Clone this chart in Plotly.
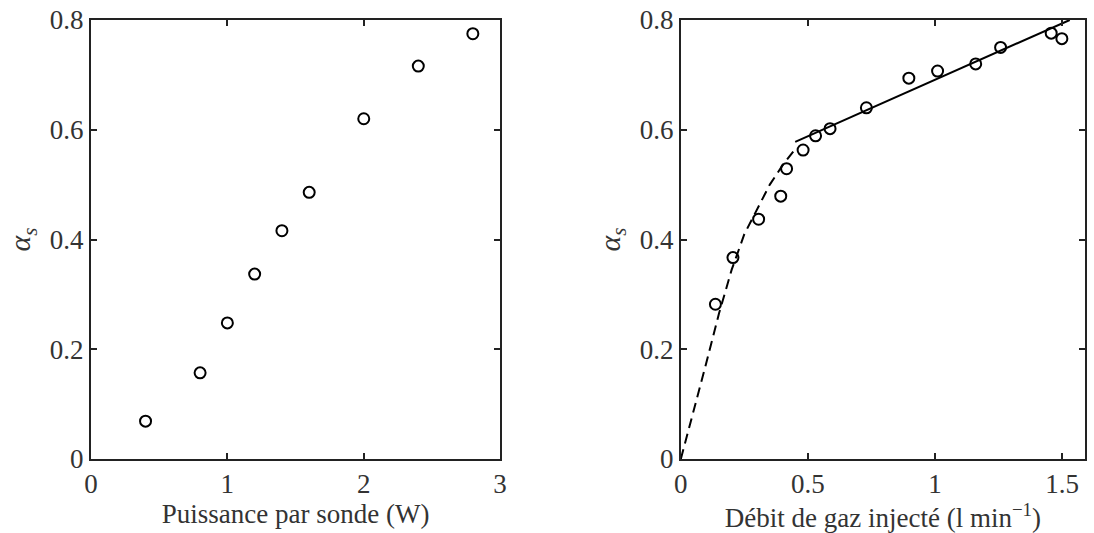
import plotly.graph_objects as go
from plotly.subplots import make_subplots

# Left panel data
puissance = [0.4, 0.8, 1.0, 1.2, 1.4, 1.6, 2.0, 2.4, 2.8]
alpha_left = [0.069, 0.157, 0.248, 0.337, 0.416, 0.486, 0.620, 0.716, 0.775]

# Right panel data
debit = [0.136, 0.205, 0.306, 0.393, 0.416, 0.481, 0.530, 0.587, 0.730,
         0.897, 1.010, 1.160, 1.258, 1.457, 1.499]
alpha_right = [0.282, 0.367, 0.437, 0.479, 0.529, 0.563, 0.589, 0.602, 0.640,
               0.694, 0.707, 0.720, 0.750, 0.776, 0.766]

# Fit curves (right panel)
dash_x = [0, 0.05, 0.1, 0.15, 0.2, 0.25, 0.3, 0.35, 0.4, 0.45]
dash_y = [0, 0.085, 0.175, 0.265, 0.345, 0.41, 0.455, 0.50, 0.535, 0.565]
solid_x = [0.45, 1.53]
solid_y = [0.578, 0.800]

left_xticks = [0, 1, 2, 3]
right_xticks = [0, 0.5, 1, 1.5]
yticks = [0, 0.2, 0.4, 0.6, 0.8]

FONT = "Liberation Serif, Times New Roman, serif"
FS = 27
W, H = 1094, 533
ml, mr, mt, mb = 91, 2, 20, 74
pw = W - ml - mr

fig = make_subplots(rows=1, cols=2)

mk = dict(symbol="circle-open", size=11, color="black", line=dict(width=2, color="black"))
fig.add_trace(go.Scatter(x=puissance, y=alpha_left, mode="markers", marker=mk,
                         showlegend=False, cliponaxis=False), row=1, col=1)
fig.add_trace(go.Scatter(x=dash_x, y=dash_y, mode="lines",
                         line=dict(color="black", width=2, dash="10px,6px"),
                         showlegend=False), row=1, col=2)
fig.add_trace(go.Scatter(x=solid_x, y=solid_y, mode="lines",
                         line=dict(color="black", width=2),
                         showlegend=False), row=1, col=2)
fig.add_trace(go.Scatter(x=debit, y=alpha_right, mode="markers", marker=mk,
                         showlegend=False, cliponaxis=False), row=1, col=2)

axis_common = dict(showline=True, linecolor="#222", linewidth=2, mirror="ticks",
                   ticks="inside", ticklen=6, tickwidth=1.5, tickcolor="#222",
                   showgrid=False, zeroline=False,
                   tickfont=dict(family=FONT, size=FS, color="#333"))

fig.update_xaxes(**axis_common)
fig.update_yaxes(**axis_common)

fig.update_xaxes(range=[0, 3], tickvals=left_xticks,
                 domain=[0, (503 - ml) / pw],
                 title=dict(text="Puissance par sonde (W)", standoff=2,
                            font=dict(family=FONT, size=FS, color="#333")),
                 row=1, col=1)
fig.update_xaxes(range=[0, 1.59], tickvals=right_xticks,
                 ticktext=["0", "0.5", "1", "1.5"],
                 domain=[(685 - ml) / pw, 1],
                 title=dict(text="Débit de gaz injecté (l min<sup>−1</sup>)", standoff=2,
                            font=dict(family=FONT, size=FS, color="#333")),
                 row=1, col=2)
for c in (1, 2):
    fig.update_yaxes(range=[0, 0.8], tickvals=yticks,
                     ticktext=["0", "0.2", "0.4", "0.6", "0.8"],
                     title=dict(text="<i>α<sub>s</sub></i>", standoff=10,
                                font=dict(family=FONT, size=30, color="#333")),
                     row=1, col=c)

fig.update_layout(width=W, height=H,
                  margin=dict(l=ml, r=mr, t=mt, b=mb),
                  paper_bgcolor="white", plot_bgcolor="white",
                  font=dict(family=FONT, size=FS, color="#333"))

fig.write_html("out.html", config={"displayModeBar": False},
               post_script="document.body.style.margin='0px';document.body.style.overflow='hidden';")
